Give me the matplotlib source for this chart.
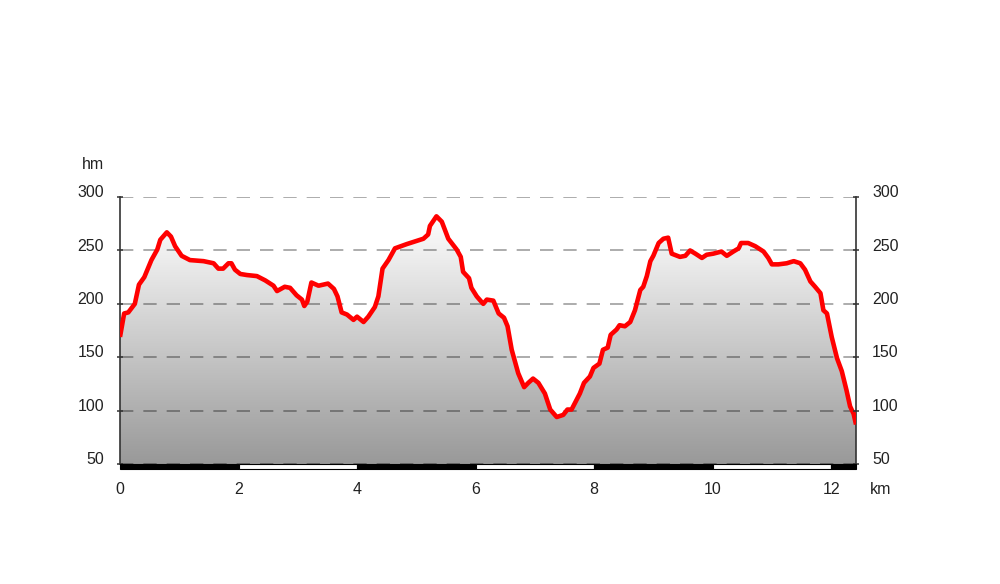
import numpy as np
import matplotlib
matplotlib.use("Agg")
import matplotlib.pyplot as plt
from matplotlib.colors import LinearSegmentedColormap

plt.rcParams['font.family'] = ['Liberation Sans', 'DejaVu Sans']

# distance (km) and elevation (hm)
dist = [0.00, 0.07, 0.14, 0.25, 0.32, 0.41, 0.53, 0.63, 0.68, 0.79, 0.86, 0.93, 1.04, 1.18,
        1.41, 1.58, 1.66, 1.74, 1.83, 1.88, 1.94, 2.03, 2.14, 2.31, 2.45, 2.59, 2.65, 2.78,
        2.87, 2.98, 3.07, 3.11, 3.16, 3.23, 3.35, 3.51, 3.61, 3.67, 3.74, 3.83, 3.94, 4.00,
        4.11, 4.19, 4.30, 4.36, 4.43, 4.53, 4.64, 4.84, 5.12, 5.20, 5.23, 5.34, 5.43, 5.54,
        5.68, 5.75, 5.79, 5.89, 5.93, 6.02, 6.13, 6.19, 6.30, 6.39, 6.48, 6.54, 6.61, 6.72,
        6.82, 6.89, 6.97, 7.06, 7.17, 7.26, 7.37, 7.48, 7.55, 7.62, 7.76, 7.83, 7.93, 7.99,
        8.09, 8.15, 8.23, 8.28, 8.38, 8.43, 8.52, 8.61, 8.69, 8.78, 8.83, 8.89, 8.95, 9.00,
        9.09, 9.17, 9.25, 9.31, 9.45, 9.54, 9.62, 9.71, 9.82, 9.90, 10.01, 10.15, 10.24,
        10.35, 10.44, 10.48, 10.60, 10.72, 10.86, 10.94, 11.00, 11.11, 11.25, 11.37, 11.48,
        11.56, 11.65, 11.73, 11.82, 11.87, 11.93, 12.01, 12.10, 12.18, 12.26, 12.32, 12.38,
        12.42]
elev = [169, 191, 192, 200, 218, 225, 241, 251, 260, 267, 263, 254, 245, 241,
        240, 238, 233, 233, 238, 238, 232, 228, 227, 226, 222, 217, 212, 216,
        215, 208, 204, 198, 202, 220, 217, 219, 214, 207, 192, 190, 185, 188,
        183, 188, 197, 207, 233, 241, 252, 256, 261, 265, 273, 282, 277, 261,
        251, 244, 230, 224, 215, 207, 200, 204, 203, 191, 187, 179, 157, 135,
        122, 126, 130, 126, 116, 101, 94, 96, 101, 101, 116, 126, 132, 140,
        144, 157, 159, 171, 176, 180, 179, 183, 194, 213, 216, 226, 240, 245,
        257, 261, 262, 247, 244, 245, 250, 247, 243, 246, 247, 249, 245,
        249, 252, 257, 257, 254, 249, 243, 237, 237, 238, 240, 238,
        232, 221, 216, 210, 194, 191, 169, 149, 137, 119, 104, 97,
        87]

y_ticks = [50, 100, 150, 200, 250, 300]
x_ticks = [0, 2, 4, 6, 8, 10, 12]

FS = 11.5
TC = '#222222'

fig = plt.figure(figsize=(10, 5.84), dpi=100)
ax = fig.add_axes([0.12, 0.2055, 0.736, 0.457])
x_max = dist[-1]
ax.set_xlim(0, x_max)
ax.set_ylim(50, 300)

# gradient fill clipped to the profile
cmap = LinearSegmentedColormap.from_list('g', ['#999999', '#ffffff'])
grad = np.linspace(0, 1, 256).reshape(-1, 1)
im = ax.imshow(grad, extent=[0, x_max, 50, 285], origin='lower', aspect='auto',
               cmap=cmap, zorder=1, interpolation='bilinear')
poly = ax.fill_between(dist, elev, 50, color='none', lw=0)
path = poly.get_paths()[0]
im.set_clip_path(path, transform=ax.transData)

# grid
for yv in y_ticks:
    ax.plot([0, x_max], [yv, yv], color=(0, 0, 0, 0.38), lw=1.2,
            dashes=(8, 6), zorder=2)

# profile line
ax.plot(dist, elev, color='#ff0000', lw=3.3, zorder=4, solid_joinstyle='round',
        solid_capstyle='butt')

# spines
for s in ['top', 'bottom']:
    ax.spines[s].set_visible(False)
for s in ['left', 'right']:
    ax.spines[s].set_color('#333333')
    ax.spines[s].set_linewidth(1.2)
ax.set_xticks([])
ax.set_yticks([])

# small ticks on spines
for yv in y_ticks:
    ax.plot([0], [yv], marker='_', color='#333333', ms=5, mew=1.1, clip_on=False, zorder=5)
    ax.plot([x_max], [yv], marker='_', color='#333333', ms=5, mew=1.1, clip_on=False, zorder=5)

# y labels
for yv in y_ticks:
    ax.text(-0.27, yv + 4, str(yv), ha='right', va='center', fontsize=FS, color=TC)
    ax.text(x_max + 0.27, yv + 4, str(yv), ha='left', va='center', fontsize=FS, color=TC)
ax.text(-0.45, 331, 'hm', ha='center', va='center', fontsize=FS, color=TC)

# distance bar
for i, x0 in enumerate(range(0, 13, 2)):
    x1 = min(x0 + 2, x_max)
    fc = 'black' if i % 2 == 0 else 'white'
    ax.add_patch(plt.Rectangle((x0, 45.3), x1 - x0, 4.7, facecolor=fc,
                               edgecolor='black', lw=0.8, clip_on=False, zorder=6))

for xv in x_ticks:
    ax.text(xv, 26, str(xv), ha='center', va='center', fontsize=FS, color=TC)
ax.text(x_max + 0.42, 26, 'km', ha='center', va='center', fontsize=FS, color=TC)

fig.savefig('out.png', dpi=100)
